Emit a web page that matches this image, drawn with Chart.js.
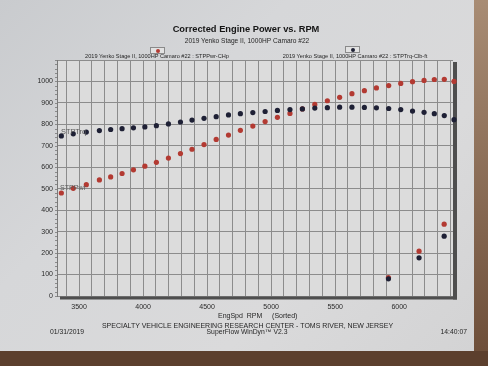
<!DOCTYPE html>
<html><head><meta charset="utf-8">
<script src="https://cdn.jsdelivr.net/npm/chart.js@4"></script>
<style>
html,body{margin:0;padding:0;width:488px;height:366px;overflow:hidden;background:#5c3f2d;}
#paper{position:absolute;left:0;top:0;width:474px;height:351px;background:linear-gradient(135deg,#c9cbce 0%,#d6d7d9 35%,#dadadb 70%,#d3d3d4 100%);}
#wood{position:absolute;left:474px;top:0;width:14px;height:351px;background:linear-gradient(180deg,#a88c74,#6e4f3a);}
#c{position:absolute;left:0;top:0;}
.t{position:absolute;font-family:"Liberation Sans",Arial,sans-serif;color:#262626;white-space:pre;transform:translate(-50%,-50%);line-height:1;}
.l{transform:translate(0,-50%);}
.box{position:absolute;width:13px;height:5px;border:1px solid #8a8a8a;background:#e2e2e2;}
.dot{position:absolute;left:4.5px;top:0.5px;width:4px;height:4px;border-radius:50%;}
</style></head>
<body>
<div id="paper"></div><div id="wood"></div>
<canvas id="c" width="488" height="366"></canvas>
<div class="t" style="left:246px;top:30px;font-size:9.3px;font-weight:bold;color:#151515;">Corrected Engine Power vs. RPM</div>
<div class="t" style="left:247px;top:41px;font-size:6.6px;">2019 Yenko Stage II, 1000HP Camaro #22</div>
<div class="box" style="left:150px;top:47px;"><div class="dot" style="background:#b33a32"></div></div>
<div class="box" style="left:345px;top:46px;"><div class="dot" style="background:#1e2035"></div></div>
<div class="t" style="left:157px;top:57.3px;font-size:5.6px;">2019 Yenko Stage II, 1000HP Camaro #22 : STPPwr-CHp</div>
<div class="t" style="left:355px;top:56.7px;font-size:5.6px;">2019 Yenko Stage II, 1000HP Camaro #22 : STPTrq-Clb-ft</div>
<div class="t l" style="left:61px;top:132.3px;font-size:7.4px;color:#5a5a5a;">STPTrq</div>
<div class="t l" style="left:60px;top:188.7px;font-size:7.1px;color:#5a5a5a;">STPPwr</div>
<div class="t l" style="left:218px;top:314.7px;font-size:7px;">EngSpd  RPM     (Sorted)</div>
<div class="t" style="left:247.5px;top:325px;font-size:7px;">SPECIALTY VEHICLE ENGINEERING RESEARCH CENTER - TOMS RIVER, NEW JERSEY</div>
<div class="t" style="left:247px;top:332.3px;font-size:6.8px;">SuperFlow WinDyn™ V2.3</div>
<div class="t l" style="left:50px;top:332.3px;font-size:6.8px;">01/31/2019</div>
<div class="t l" style="left:440.5px;top:332px;font-size:6.8px;">14:40:07</div>
<script>
// Engine speed samples (RPM), corrected power (CHp) and torque (lb-ft)
const rpm = [3362,3455,3557,3659,3747,3836,3925,4014,4104,4198,4292,4382,4476,4571,4667,4760,4857,4953,5049,5147,5244,5341,5439,5535,5631,5728,5822,5918,6012,6104,6194,6274,6352,6428,5916,6155,6351];
const power = [480,502,519,541,555,571,588,605,623,643,664,684,706,730,750,772,792,813,833,851,872,893,910,926,943,957,970,981,991,999,1005,1009,1010,1000,86,209,335];
const torque = [746,756,764,771,776,780,784,788,794,802,811,820,828,836,844,850,855,860,865,869,872,876,878,880,880,879,877,874,869,862,856,850,841,822,80,178,279];
const xTickLabels = [3500,4000,4500,5000,5500,6000];
const yTickLabels = [0,100,200,300,400,500,600,700,800,900,1000];
const xMin = 3328, xMax = 6420, yMin = 0, yMax = 1100;

const xGrid = [];
for (let v = 3400; v <= 6400; v += 100) xGrid.push(v);

const pts = (ys) => rpm.map((r, i) => ({x: r, y: ys[i]}));

const frame = {
  id: 'frame',
  beforeDraw(chart) {
    const {ctx, chartArea: a} = chart;
    ctx.save();
    ctx.fillStyle = '#dcdcdc';
    ctx.fillRect(a.left, a.top, a.right - a.left, a.bottom - a.top);
    ctx.restore();
  },
  beforeDatasetsDraw(chart) {
    const {ctx, chartArea: a} = chart;
    const ys = chart.scales.y;
    ctx.save();
    ctx.strokeStyle = '#777';
    ctx.lineWidth = 0.8;
    ctx.beginPath();
    for (let v = 0; v <= yMax; v += 20) {
      const p = Math.round(ys.getPixelForValue(v)) + 0.5;
      ctx.moveTo(a.left - 2, p); ctx.lineTo(a.left + 1, p);
    }
    ctx.stroke();
    ctx.fillStyle = '#4e4e4e';
    ctx.fillRect(a.left + 3, a.bottom + 0.5, a.right - a.left + 1, 3);
    ctx.fillRect(a.right, a.top + 2, 4, a.bottom - a.top + 1.5);
    ctx.restore();
  }
};

Chart.defaults.font.family = "'Liberation Sans', Arial, sans-serif";
new Chart(document.getElementById('c'), {
  type: 'scatter',
  data: {
    datasets: [
      {label: 'STPTrq-Clb-ft', data: pts(torque), backgroundColor: '#1e2035', borderWidth: 0, pointRadius: 2.6, order: 0, clip: false},
      {label: 'STPPwr-CHp', data: pts(power), backgroundColor: '#b33a32', borderWidth: 0, pointRadius: 2.6, order: 1, clip: false}
    ]
  },
  options: {
    responsive: false,
    animation: false,
    layout: {padding: {top: 60, right: 35, left: 0, bottom: 0}},
    plugins: {legend: {display: false}, title: {display: false}, tooltip: {enabled: false}},
    scales: {
      x: {
        type: 'linear', min: xMin, max: xMax,
        afterFit: s => { s.height = 70; },
        afterBuildTicks: s => { s.ticks = xGrid.map(v => ({value: v})); },
        grid: {color: '#8c8c8c', lineWidth: 1, drawTicks: false},
        border: {display: false},
        ticks: {padding: 7, color: '#2a2a2a', font: {size: 7}, maxRotation: 0, autoSkip: false,
          callback: v => xTickLabels.includes(v) ? String(v) : ''}
      },
      y: {
        type: 'linear', min: yMin, max: yMax,
        afterFit: s => { s.width = 57; },
        grid: {color: '#8c8c8c', lineWidth: 1, drawTicks: false},
        border: {display: true, color: '#7a7a7a', width: 1},
        ticks: {stepSize: 100, padding: 4, color: '#2a2a2a', font: {size: 7},
          callback: v => yTickLabels.includes(v) ? String(v) : ''}
      }
    }
  },
  plugins: [frame]
});
</script>
</body></html>
